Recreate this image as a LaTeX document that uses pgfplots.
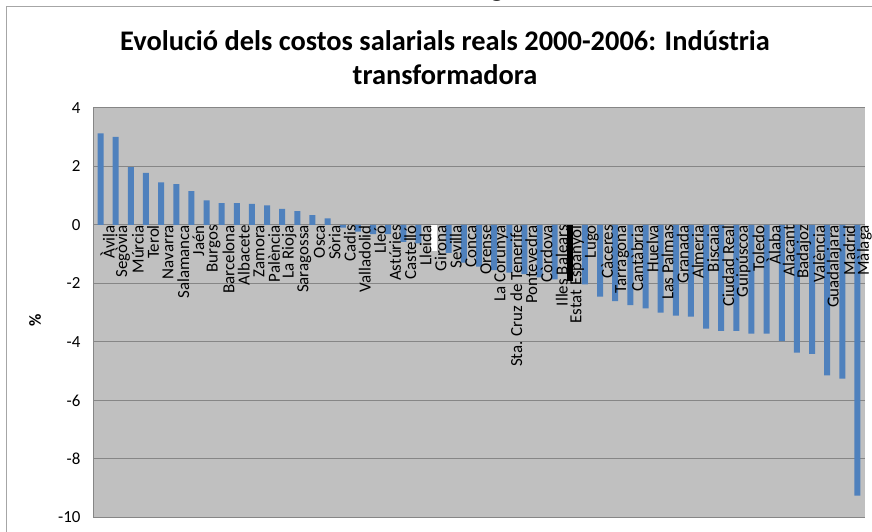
\documentclass[border=0pt]{standalone}
\usepackage{fontspec}
\setmainfont{Carlito}
\usepackage{pgfplots}
\pgfplotsset{compat=1.18}
\definecolor{barblue}{HTML}{4F81BD}
\definecolor{plotgray}{HTML}{C0C0C0}
\definecolor{gridgray}{HTML}{868686}
\definecolor{framegray}{HTML}{A6A6A6}
\pgfplotsset{
  common/.style={
    at={(93bp,14.5bp)}, anchor=south west,
    scale only axis, width=772bp, height=409.5bp,
    xmin=-0.5, xmax=50.5, ymin=-10, ymax=4,
    xtick={0,...,50}, ytick={-10,-8,...,4}, major tick length=0pt,
  },
}

\begin{document}
\begin{tikzpicture}
\path[use as bounding box] (0,0) rectangle (872bp,532bp);
\clip (0,0) rectangle (872bp,532bp);
% marc del grafic (retallat a dreta i a baix)
\draw[framegray, line width=1bp] (6.5bp,-5bp) -- (6.5bp,525.3bp) -- (880bp,525.3bp);
\node[anchor=base, font=\bfseries\fontsize{28.5}{34}\selectfont] at (497bp,535.5bp) {g};
\node[anchor=base, font=\bfseries\fontsize{28.5}{34}\selectfont] at (445bp,481bp)
  {Evolució dels costos salarials reals 2000-2006: Indústria};
\node[anchor=base, font=\bfseries\fontsize{28.5}{34}\selectfont] at (445bp,447bp)
  {transformadora};
\node[rotate=90, font=\bfseries\fontsize{17}{20}\selectfont] at (35bp,212bp) {\%};

% barres, quadricula i eixos
\begin{axis}[
  common,
  axis background/.style={fill=plotgray},
  axis x line*=middle, axis y line*=left,
  axis line style={gridgray, line width=1bp, -},
  ymajorgrids, grid style={gridgray, line width=1bp},
  xticklabels={},
  yticklabel style={anchor=east, font=\fontsize{17}{20}\selectfont, xshift=-9bp},
  /pgf/number format/assume math mode=true,
  ybar, bar width=6bp,
]
\addplot[fill=barblue, draw=none, bar shift=0pt] coordinates {
(0,3.13)(1,3.01)(2,1.98)(3,1.78)(4,1.46)(5,1.40)(6,1.16)(7,0.84)(8,0.75)(9,0.75)
(10,0.72)(11,0.67)(12,0.55)(13,0.47)(14,0.34)(15,0.23)(16,-0.09)(17,-0.23)(18,-0.31)(19,-0.31)
(20,-0.58)(21,-0.63)(23,-0.95)(24,-1.29)(25,-1.42)(26,-1.54)(27,-1.63)(28,-1.68)(29,-1.79)
(30,-1.86)(32,-2.03)(33,-2.45)(34,-2.60)(35,-2.74)(36,-2.85)(37,-3.00)(38,-3.10)(39,-3.13)
(40,-3.54)(41,-3.62)(42,-3.62)(43,-3.71)(44,-3.71)(45,-3.97)(46,-4.36)(47,-4.41)(48,-5.14)
(49,-5.25)(50,-9.25)};
% Girona
\addplot[fill=white, draw=none, bar shift=0pt] coordinates {(22,-0.88)};
% Estat Espanyol
\addplot[fill=black, draw=none, bar shift=0pt] coordinates {(31,-1.90)};
\end{axis}

% noms de les provincies, per sobre de les barres
\begin{axis}[
  common,
  axis x line*=middle, axis y line=none,
  axis line style={draw=none},
  yticklabels={},
  xticklabels={Àvila,Segòvia,Múrcia,Terol,Navarra,Salamanca,Jaén,Burgos,Barcelona,Albacete,Zamora,Palència,La Rioja,Saragossa,Osca,Sòria,Cadis,Valladolid,Lleó,Astúries,Castelló,Lleida,Girona,Sevilla,Conca,Orense,La Corunya,Sta. Cruz de Tenerife,Pontevedra,Còrdova,Illes Balears,Estat Espanyol,Lugo,Càceres,Tarragona,Cantàbria,Huelva,Las Palmas,Granada,Almeria,Biscaia,Ciudad Real,Guipúscoa,Toledo,Àlaba,Alacant,Badajoz,València,Guadalajara,Madrid,Màlaga},
  xticklabel style={rotate=90, anchor=east, font=\fontsize{17}{20}\selectfont, inner sep=0pt, yshift=-7bp},
]
\end{axis}
\end{tikzpicture}
\end{document}
